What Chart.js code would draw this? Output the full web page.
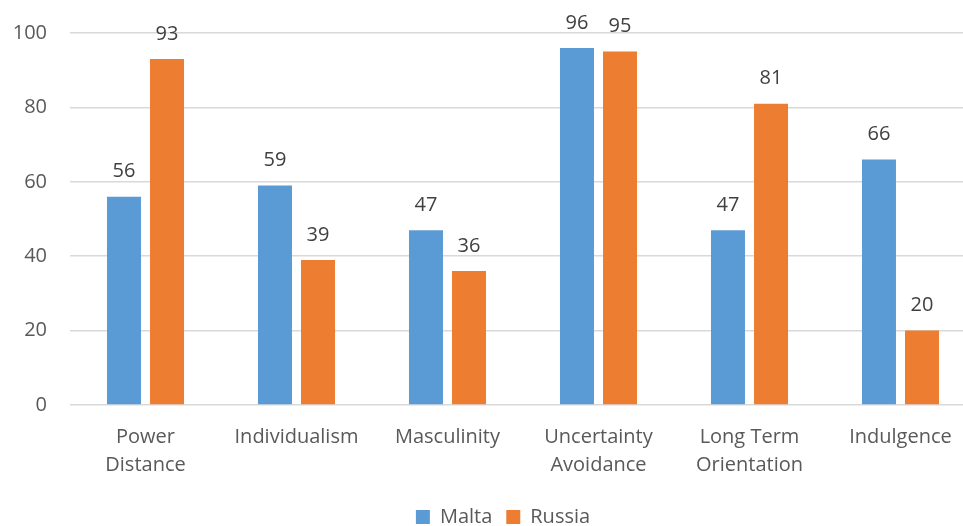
<!DOCTYPE html>
<html>
<head>
<meta charset="utf-8">
<script src="https://cdn.jsdelivr.net/npm/chart.js@4/dist/chart.umd.min.js"></script>
<style>
  html, body { margin: 0; padding: 0; background: #fff; overflow: hidden; }
  #wrap { width: 976px; height: 537px; }
</style>
</head>
<body>
<div id="wrap"><canvas id="myChart"></canvas></div>
<script>
const categories = [['Power', 'Distance'], 'Individualism', 'Masculinity', ['Uncertainty', 'Avoidance'], ['Long Term', 'Orientation'], 'Indulgence'];
const malta = [56, 59, 47, 96, 47, 66];
const russia = [93, 39, 36, 95, 81, 20];
const yTicks = [0, 20, 40, 60, 80, 100];

const FONT = "'Open Sans', 'Liberation Sans', sans-serif";

// values above each bar
const barLabels = {
    id: 'barLabels',
    afterLayout(chart) {
        // legend sits a bit right of the canvas centre in the original
        chart.legend.left += 15;
        chart.legend.right += 15;
    },
    afterDatasetsDraw(chart) {
        const c = chart.ctx;
        c.save();
        c.font = '20px ' + FONT;
        c.fillStyle = '#404040';
        c.textAlign = 'center';
        c.textBaseline = 'middle';
        chart.data.datasets.forEach((ds, i) => {
            chart.getDatasetMeta(i).data.forEach((bar, j) => {
                c.fillText(ds.data[j], bar.x, bar.y - 25);
            });
        });
        c.restore();
    }
};

let ctx = document.getElementById('myChart').getContext('2d');
let chart = new Chart(ctx, {
    type: 'bar',
    data: {
        labels: categories,
        datasets: [{
            label: 'Malta',
            backgroundColor: '#5B9BD5',
            data: malta
        }, {
            label: 'Russia',
            backgroundColor: '#ED7D31',
            data: russia
        }]
    },
    options: {
        responsive: true,
        maintainAspectRatio: false,
        animation: false,
        categoryPercentage: 0.57,
        barPercentage: 0.79,
        layout: { padding: { top: 33, left: 0, right: 0, bottom: 0 } },
        plugins: {
            tooltip: { enabled: false },
            legend: {
                position: 'bottom',
                labels: {
                    font: { family: FONT, size: 20 },
                    color: '#595959',
                    boxWidth: 14,
                    boxHeight: 14,
                    padding: 14
                }
            }
        },
        scales: {
            x: {
                grid: { display: false },
                border: { display: false },
                afterFit(axis) { axis.height = 88; },
                ticks: {
                    font: { family: FONT, size: 20, lineHeight: 1.4 },
                    color: '#595959',
                    maxRotation: 0,
                    padding: 10
                }
            },
            y: {
                min: 0,
                max: 100,
                afterBuildTicks(axis) { axis.ticks = yTicks.map(v => ({ value: v })); },
                afterFit(axis) { axis.width = 70; axis.paddingTop = 0; axis.paddingBottom = 0; },
                grid: { color: '#d9d9d9', lineWidth: 1.5, drawTicks: false },
                border: { display: false },
                ticks: {
                    font: { family: FONT, size: 20 },
                    color: '#595959',
                    padding: 23
                }
            }
        }
    },
    plugins: [barLabels]
});
</script>
</body>
</html>
